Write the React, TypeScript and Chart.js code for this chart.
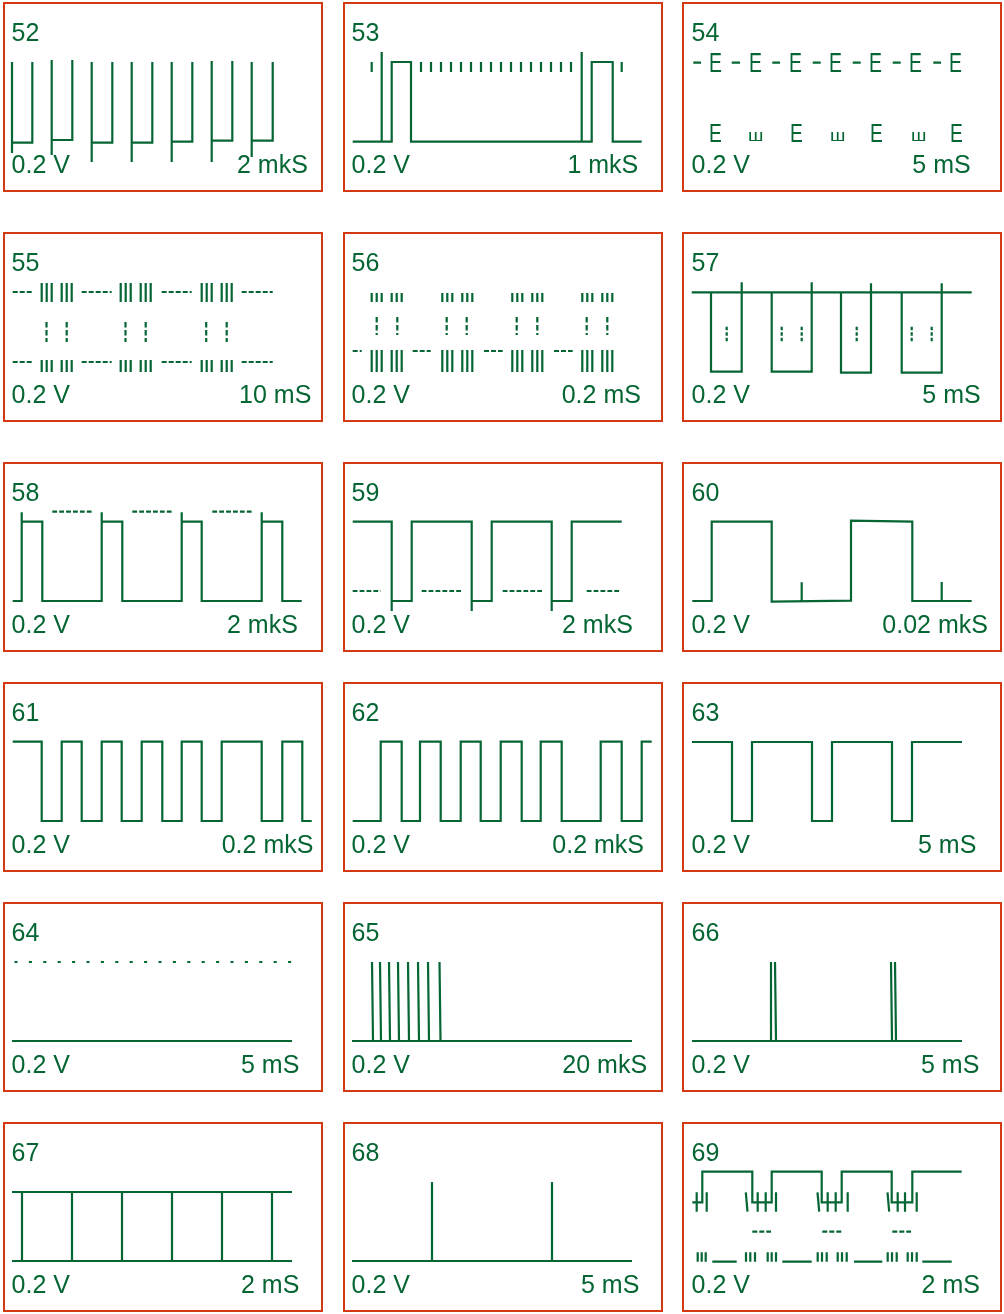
import React, { useEffect, useRef } from "react";
import { Chart, registerables } from "chart.js";

Chart.register(...registerables);

type Pt = [number, number];
type Path = Pt[];

// ---------------- labels ----------------
const panelNumbers = ["52", "53", "54", "55", "56", "57", "58", "59", "60", "61", "62", "63", "64", "65", "66", "67", "68", "69"];
const voltsLabel = "0.2 V";
const timeLabels = ["2 mkS", "1 mkS", "5 mS", "10 mS", "0.2 mS", "5 mS", "2 mkS", "2 mkS", "0.02 mkS", "0.2 mkS", "0.2 mkS", "5 mS", "5 mS", "20 mkS", "5 mS", "2 mS", "5 mS", "2 mS"];

// ---------------- waveform data: x = time units, y = volts (divisions) ----------------
// 52
const p52Left = [10, 49.7, 89.7, 129.7, 169.7, 209.7, 249.7];
const p52Right = [30.3, 70.3, 110.3, 150.3, 190.3, 230.3, 270.7];
const p52Top = [8.0, 8.2, 8.0, 8.0, 8.0, 8.1, 8.0];
const p52Floor = [-0.07, 0.2, -0.07, -0.07, 0.03, 0.13, 0.13];
const p52Tail = [-1.1, -1.3, -2, -2, -2, -2, -1.5];
// 53
const p53Trace: Path = [[10.7, 0.03], [39.7, 0.03], [39.7, 9.0], [39.7, 0.03], [49.7, 0.03], [49.7, 8.0], [69, 8.0], [69, 0.03], [239.7, 0.03], [239.7, 9.0], [239.7, 0.03], [249.7, 0.03], [249.7, 8.0], [270.7, 8.0], [270.7, 0.03], [299.7, 0.03]];
const p53Ticks = [29.7, 79, 89, 99, 109, 119, 129, 139, 149, 159, 169, 179, 189, 199, 209, 219, 229, 279.7];
// 54
const p54Dashes = [[11.3, 19], [49.7, 58], [90.3, 98], [130.7, 138.7], [170.7, 178.7], [210.7, 218.7], [251.3, 259]];
const p54TopE = [28, 68, 108, 148, 188, 228.7, 268.7];
const p54BottomE = [28, 109, 189, 269];
const p54Sha = [67, 149.7, 230.3];
// 55
const p55Dashes = [[10.7, 29.7], [79.7, 109.7], [159.7, 189.7], [239.7, 270.7]];
const p55Bars = [39.7, 44.7, 49.7, 59.7, 64.7, 69.7, 118.7, 123.7, 128.7, 138.7, 143.7, 148.7, 199.7, 204.7, 209.7, 219.7, 224.7, 229.7];
const p55Ticks = [44.5, 64.7, 123.5, 143.7, 204.2, 224.7];
// 56
const p56Bars = [29.7, 34.7, 39.7, 49.7, 54.7, 59.7, 100.3, 105.3, 110.3, 120.3, 125.3, 130.3, 170.3, 175.3, 180.3, 190.3, 195.3, 200.3, 240.3, 245.3, 250.3, 260.3, 265.3, 270.3];
const p56Ticks = [34.7, 55.3, 104.7, 124.7, 174.7, 195.3, 244.7, 265.3];
const p56Dashes = [[10.7, 19.7], [70.7, 88.7], [142, 160.7], [212, 230.7]];
// 57
const p57Left = [29, 89.7, 159, 219.7];
const p57Right = [59.7, 129.7, 189, 259.7];
const p57Floor = [0.03, 0.03, -0.07, -0.07];
const p57Spike = [8.97, 8.97, 8.87, 8.87];
const p57Ticks = [44.7, 99.7, 119.7, 174.7, 229.7, 249.7];
// 58
const p58Trace: Path = [[10.7, 0.1], [19.7, 0.1], [19.7, 8.97], [19.7, 8.03], [40.3, 8.03], [40.3, 0.1], [99.7, 0.1], [99.7, 8.97], [99.7, 8.03], [120.3, 8.03], [120.3, 0.1], [179.7, 0.1], [179.7, 8.97], [179.7, 8.03], [199.7, 8.03], [199.7, 0.1], [259.7, 0.1], [259.7, 8.97], [259.7, 8.03], [280.3, 8.03], [280.3, 0.1], [299.7, 0.1]];
const p58Dashes = [[50.3, 89.7], [130.3, 169.7], [210.3, 249.7]];
// 59
const p59Trace: Path = [[10.7, 8.03], [49.7, 8.03], [49.7, -0.9], [49.7, 0.1], [69.7, 0.1], [69.7, 8.03], [129.7, 8.03], [129.7, -0.9], [129.7, 0.1], [149.7, 0.1], [149.7, 8.03], [209.7, 8.03], [209.7, -0.9], [209.7, 0.1], [229.7, 0.1], [229.7, 8.03], [279.7, 8.03]];
const p59Dashes = [[10.7, 38.7], [79.7, 119.7], [160.7, 201.3], [244.7, 278]];
// 60
const p60Trace: Path = [[10.3, 0.1], [29.7, 0.1], [29.7, 8.03], [89.7, 8.03], [89.7, 0.03], [169, 0.13], [169, 8.13], [230.3, 8.03], [230.3, 0.1], [289.7, 0.1]];
const p60Ticks: Path[] = [[[119.7, 0.07], [119.7, 1.97]], [[259.7, 0.1], [259.7, 2.0]]];
// 61 - 63
const p61Edges = [39.7, 59.7, 79.7, 99.7, 119.7, 139.7, 160.3, 179.7, 199.7, 219.7, 259.7, 280.3, 300.3];
const p62Edges = [38.7, 59.7, 78, 98.7, 118.7, 138.7, 158.7, 179.7, 198.7, 219.7, 258.7, 279.7, 299.7];
const p63Edges = [50, 70, 130, 150, 210, 230];
// 64 - 68
const p65Spikes = [31, 39, 48, 57, 67, 77, 87, 98.5];
const p66Spikes = [90, 94, 210, 214];
const p67Posts = [20, 70, 120, 170, 220, 270];
const p68Spikes = [90, 210];
// 69
const p69Trace: Path = [[10.3, 5.97], [20.3, 5.97], [20.3, 9.03], [70.3, 9.03], [70.3, 5.97], [89.7, 5.97], [89.7, 9.03], [139.7, 9.03], [139.7, 5.97], [159.7, 5.97], [159.7, 9.03], [209.7, 9.03], [209.7, 5.97], [230.3, 5.97], [230.3, 9.03], [279.7, 9.03]];
const p69Ticks = [14.7, 24.7, 75.7, 83.7, 94, 145.7, 153.7, 165.7, 215.7, 223, 234.7];
const p69SlantTicks = [65.5, 137.2, 207.2];
const p69Dashes = [[70.3, 89], [140.3, 159.7], [210.3, 229]];
const p69Bars = [15.7, 19.7, 23.7, 64, 68.3, 73, 85.7, 89.7, 94, 135.7, 140, 144.7, 155.7, 160, 164.7, 205.7, 210, 214.7, 225.7, 230, 234.7];
const p69Runs = [[30.3, 54.7], [100.3, 129.7], [172, 200.3], [240.3, 269.7]];

// ---------------- helpers ----------------
const vbars = (xs: number[], y0: number, y1: number, lean = 0): Path[] => xs.map((x) => [[x, y0], [x + lean, y1]] as Path);
const hsegs = (ranges: number[][], y: number): Path[] => ranges.map(([a, b]) => [[a, y], [b, y]] as Path);
const squareWave = (x0: number, x1: number, edges: number[], startHigh: boolean, hi: number, lo: number): Path => {
  const pts: Path = [];
  let level = startHigh ? hi : lo;
  pts.push([x0, level]);
  edges.forEach((e) => {
    pts.push([e, level]);
    level = level === hi ? lo : hi;
    pts.push([e, level]);
  });
  pts.push([x1, level]);
  return pts;
};

interface Spec {
  solid: Path[];
  dashed?: { dash: number[]; paths: Path[] }[];
}

const specs: Spec[] = [
  {
    solid: p52Left.flatMap((L, i) => [
      [[L, p52Top[i]], [L, p52Tail[i]]] as Path,
      [[L, p52Floor[i]], [p52Right[i], p52Floor[i]], [p52Right[i], p52Top[i]]] as Path,
    ]),
  },
  { solid: [p53Trace, ...vbars(p53Ticks, 7.0, 8.0)] },
  { solid: hsegs(p54Dashes, 7.93) },
  {
    solid: [...vbars(p55Bars, 7.0, 8.9), ...vbars(p55Bars, 0.0, 1.2)],
    dashed: [
      { dash: [5, 2], paths: [...hsegs(p55Dashes, 8.0), ...hsegs(p55Dashes, 1.0)] },
      { dash: [5.5, 2.5], paths: vbars(p55Ticks, 5.0, 3.0) },
    ],
  },
  {
    solid: [...vbars(p56Bars, 7.0, 7.9), ...vbars(p56Bars, 0.0, 2.2)],
    dashed: [
      { dash: [5, 2], paths: hsegs(p56Dashes, 2.1) },
      { dash: [5.5, 2.5], paths: vbars(p56Ticks, 5.5, 3.7) },
    ],
  },
  {
    solid: [
      [[9.7, 7.97], [289.7, 7.97]],
      ...p57Left.map((L, i) => [[L, 7.97], [L, p57Floor[i]], [p57Right[i], p57Floor[i]], [p57Right[i], p57Spike[i]]] as Path),
    ],
    dashed: [{ dash: [3.5, 2], paths: vbars(p57Ticks, 4.53, 2.87) }],
  },
  { solid: [p58Trace], dashed: [{ dash: [4.8, 2.1], paths: hsegs(p58Dashes, 9.03) }] },
  { solid: [p59Trace], dashed: [{ dash: [4.8, 2.1], paths: hsegs(p59Dashes, 1.1) }] },
  { solid: [p60Trace, ...p60Ticks] },
  { solid: [squareWave(10.7, 309.7, p61Edges, true, 8.03, 0.1)] },
  { solid: [squareWave(10.7, 309.7, p62Edges, false, 8.03, 0.1)] },
  { solid: [squareWave(10, 280, p63Edges, true, 8.0, 0.1)] },
  { solid: hsegs([[10, 290]], 0.1), dashed: [{ dash: [3, 11.4], paths: hsegs([[12.5, 291]], 8.0) }] },
  { solid: [...hsegs([[10, 290]], 0.1), ...vbars(p65Spikes, 0.1, 8.0, -1)] },
  { solid: [...hsegs([[10, 280]], 0.1), ...vbars(p66Spikes, 0.1, 8.0, -1)] },
  { solid: [...hsegs([[10, 290]], 7.0), ...hsegs([[10, 290]], 0.1), ...vbars(p67Posts, 0.1, 7.0)] },
  { solid: [...hsegs([[10, 290]], 0.1), ...vbars(p68Spikes, 0.1, 8.0)] },
  {
    solid: [
      p69Trace,
      ...vbars(p69Ticks, 5.03, 6.97),
      ...vbars(p69SlantTicks, 5.03, 6.97, -1.7),
      ...vbars(p69Bars, 0.03, 0.97),
      ...hsegs(p69Runs, 0.03),
    ],
    dashed: [{ dash: [5, 2], paths: hsegs(p69Dashes, 3.03) }],
  },
];

// ---------------- layout / style ----------------
const GREEN = "#056634";
const RED = "#d33a12";
const FONT = '"Liberation Sans", Arial, Helvetica, sans-serif';
const COL_X = [2, 342, 682];
const ROW_Y = [2, 232, 462, 682, 902, 1122];
const BOX_DX = [1, 1, 0];
const W = 322;
const H = 192;
const LINE_W = 2.2;
const TIME_X = [235, 225.4, 230.3, 237.1, 219.7, 240.3, 225, 220, 200.3, 219.7, 210.3, 236, 239, 220.3, 239, 239, 239, 239.6];

function toData(paths: Path[]) {
  const out: { x: number; y: number | null }[] = [];
  paths.forEach((p, i) => {
    if (i > 0) out.push({ x: p[0][0], y: null });
    p.forEach(([x, y]) => out.push({ x, y }));
  });
  return out;
}

function Panel({ idx }: { idx: number }) {
  const ref = useRef<HTMLCanvasElement>(null);
  const spec = specs[idx];
  useEffect(() => {
    if (!ref.current) return;
    const base = {
      borderColor: GREEN,
      backgroundColor: GREEN,
      borderWidth: LINE_W,
      pointRadius: 0,
      pointHoverRadius: 0,
      tension: 0,
      fill: false,
      spanGaps: false,
      borderCapStyle: "butt" as const,
      borderJoinStyle: "miter" as const,
    };
    const datasets: any[] = [{ ...base, data: toData(spec.solid) }];
    (spec.dashed || []).forEach((d) => datasets.push({ ...base, data: toData(d.paths), borderDash: d.dash }));
    const chart = new Chart(ref.current, {
      type: "line",
      data: { datasets },
      options: {
        animation: false,
        responsive: false,
        events: [],
        layout: { padding: 0 },
        plugins: { legend: { display: false }, tooltip: { enabled: false } },
        scales: {
          x: { type: "linear", min: 0, max: W, display: false },
          y: { type: "linear", min: -5.2, max: 14, display: false },
        },
      },
    });
    return () => chart.destroy();
  }, []);

  const col = idx % 3;
  const row = Math.floor(idx / 3);
  const text: React.CSSProperties = {
    position: "absolute",
    fontFamily: FONT,
    fontSize: 25,
    lineHeight: "25px",
    color: GREEN,
    whiteSpace: "nowrap",
  };
  const glyph = (key: string, ch: string, left: number, top: number, size: number, sx: number) => (
    <span
      key={key}
      style={{
        position: "absolute",
        left,
        top,
        fontFamily: FONT,
        fontSize: size,
        lineHeight: `${size}px`,
        color: GREEN,
        transform: `scaleX(${sx})`,
        transformOrigin: "0 0",
        whiteSpace: "nowrap",
      }}
    >
      {ch}
    </span>
  );

  return (
    <div style={{ position: "absolute", left: COL_X[col], top: ROW_Y[row], width: W, height: H }}>
      <div
        style={{
          position: "absolute",
          left: BOX_DX[col],
          top: 0,
          width: 320,
          height: 190,
          border: `2px solid ${RED}`,
          boxSizing: "border-box",
        }}
      />
      <canvas ref={ref} width={W} height={H} style={{ position: "absolute", left: 0, top: 0, width: W, height: H }} />
      <span style={{ ...text, left: 9.6, top: 17.6 }}>{panelNumbers[idx]}</span>
      <span style={{ ...text, left: 9.6, top: 149.5 }}>{voltsLabel}</span>
      <span style={{ ...text, left: TIME_X[idx], top: 149.5 }}>{timeLabels[idx]}</span>
      {idx === 2 && [
        ...p54TopE.map((x, i) => glyph("te" + i, "E", x - 1.5, 47.6, 27, 0.72)),
        ...p54BottomE.map((x, i) => glyph("be" + i, "E", x - 1.45, 119.3, 25, 0.77)),
        ...p54Sha.map((x, i) => glyph("sh" + i, "ш", x - 1.3, 126.2, 16, 1.2)),
      ]}
    </div>
  );
}

export default function App() {
  return (
    <div style={{ position: "absolute", left: 0, top: 0, width: 1004, height: 1314, overflow: "hidden", background: "#fff" }}>
      {specs.map((_, i) => (
        <Panel key={i} idx={i} />
      ))}
    </div>
  );
}
